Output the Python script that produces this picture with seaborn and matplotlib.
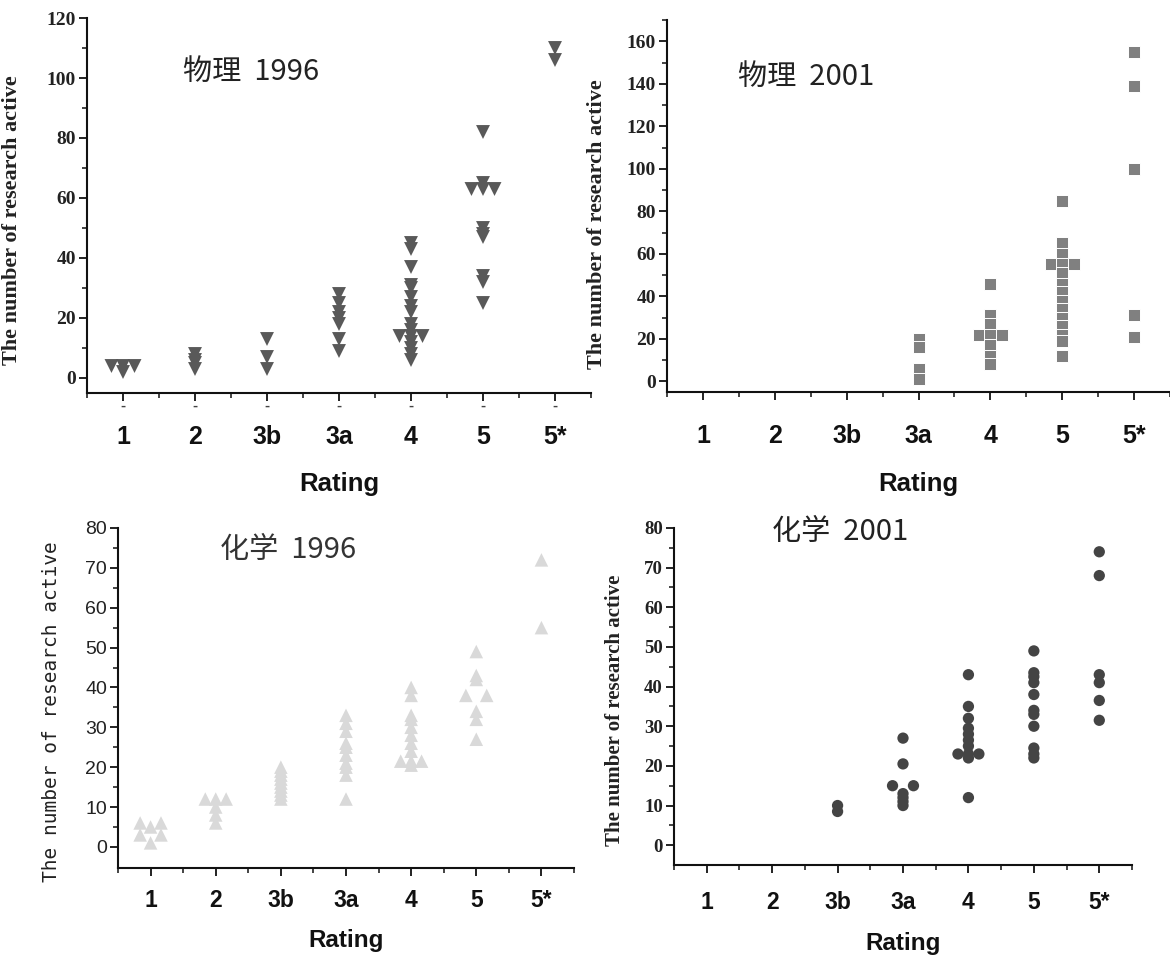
import numpy as np
import pandas as pd
import matplotlib
matplotlib.use("Agg")
import matplotlib.pyplot as plt
import matplotlib.transforms as mtransforms
import seaborn as sns

# рейтинги (ось X)
ratings = ['1', '2', '3b', '3a', '4', '5', '5*']

# 物理 1996 — значения по каждому рейтингу
phys_1996 = [
    [4, 4, 4, 2],
    [8, 6, 5, 3],
    [13, 7, 3],
    [28, 25, 22, 20, 18, 13, 9],
    [45, 43, 37, 31, 30, 27, 24, 22, 18, 16, 14, 14, 14, 12, 10, 8, 6],
    [82, 65, 63, 63, 63, 50, 48, 47, 34, 32, 25],
    [110, 106],
]

# 物理 2001
phys_2001 = [
    [],
    [],
    [],
    [20, 16, 6, 1],
    [46, 31, 27, 22, 22, 22, 17, 12, 8],
    [85, 65, 60, 55, 55, 55, 51, 46, 42, 38, 34, 30, 26, 22, 19, 12],
    [155, 139, 100, 31, 21],
]

# 化学 1996
chem_1996 = [
    [6, 6, 5, 3, 3, 1],
    [12, 12, 12, 10, 8, 6],
    [20, 19, 18, 17, 16, 15, 14, 13, 12],
    [33, 31, 29, 26, 25, 23, 21, 20, 18, 12],
    [40, 38, 33, 32, 30, 28, 26, 24, 21.5, 21.5, 21.5, 20.5],
    [49, 43, 42, 38, 38, 34, 32, 27],
    [72, 55],
]

# 化学 2001
chem_2001 = [
    [],
    [],
    [10, 8.5],
    [27, 20.5, 15, 15, 13, 12, 11, 10],
    [43, 35, 32, 29.5, 28, 26.5, 25, 23, 23, 23, 22, 12],
    [49, 43.5, 42.5, 41, 38, 34, 33, 30, 24.5, 23, 22],
    [74, 68, 43, 41, 36.5, 31.5],
]

W, H = 1170, 958


def column_offsets(values, step=0.16):
    """Сдвигаем одинаковые значения в стороны, как column scatter в Origin."""
    offs = np.zeros(len(values))
    for v in set(values):
        idx = [i for i, x in enumerate(values) if x == v]
        n = len(idx)
        if n < 2:
            continue
        if n % 2:
            k = np.arange(n) - n // 2
        else:
            k = np.r_[np.arange(-(n // 2), 0), np.arange(1, n // 2 + 1)]
        offs[idx] = k * step
    return offs


def to_frame(columns):
    rows = []
    for i, vals in enumerate(columns):
        offs = column_offsets(vals)
        for v, o in zip(vals, offs):
            rows.append({'Rating': ratings[i], 'pos': i + 1 + o, 'value': v})
    return pd.DataFrame(rows)


def px_axes(left, right, top, bottom):
    return [left / W, 1 - bottom / H, (right - left) / W, (bottom - top) / H]


sns.set_theme(style="ticks")
plt.rcParams['font.family'] = ['Liberation Sans', 'Noto Sans CJK SC', 'DejaVu Sans']
plt.rcParams['axes.linewidth'] = 1.5

fig = plt.figure(figsize=(W / 100, H / 100), dpi=100)

panels = [
    dict(data=phys_1996, rect=(87, 591, 18, 393), marker='v', color='#595959', s=100,
         ec='none', lw=0, ylim=(-5, 120), major=20, minor=10, xlim=(0.5, 7.5),
         yfont=('Liberation Serif', 'bold', 14), ylab_font=('Liberation Serif', 'bold', 16),
         ylab_xy=(-0.128, 0.46), xlab_xy=(0.5, -0.21), xpad=17, xsize=18, rsize=18.5,
         title='物理  1996', title_xy=(183, 72), title_color='#222222', dashes=True),
    dict(data=phys_2001, rect=(667, 1170, 20, 392), marker='s', color='#808080', s=85,
         ec='white', lw=0.7, ylim=(-5, 170), major=20, minor=10, xlim=(0.5, 7.27),
         yfont=('Liberation Serif', 'bold', 14), ylab_font=('Liberation Serif', 'bold', 16),
         ylab_xy=(-0.12, 0.45), xlab_xy=(0.5, -0.215), xpad=17, xsize=18, rsize=18.5,
         title='物理  2001', title_xy=(738, 77), title_color='#222222', dashes=False),
    dict(data=chem_1996, rect=(118, 574, 528, 868), marker='^', color='#d9d9d9', s=95,
         ec='none', lw=0, ylim=(-5.3, 80), major=10, minor=5, xlim=(0.5, 7.5),
         yfont=('Liberation Sans', 'normal', 14), ylab_font=('DejaVu Sans Mono', 'normal', 14),
         ylab_xy=(-0.125, 0.46), xlab_xy=(0.5, -0.18), xpad=9, xsize=16.5, rsize=17.5,
         title='化学  1996', title_xy=(220, 550), title_color='#333333', dashes=False),
    dict(data=chem_2001, rect=(674, 1132, 528, 865), marker='o', color='#444444', s=66,
         ec='none', lw=0, ylim=(-5, 80), major=10, minor=5, xlim=(0.5, 7.5),
         yfont=('Liberation Serif', 'bold', 13.5), ylab_font=('Liberation Serif', 'bold', 15),
         ylab_xy=(-0.107, 0.46), xlab_xy=(0.5, -0.2), xpad=13, xsize=16.5, rsize=17.5,
         title='化学  2001', title_xy=(772, 532), title_color='#222222', dashes=False),
]

for p in panels:
    ax = fig.add_axes(px_axes(*p['rect']))
    df = to_frame(p['data'])
    sns.scatterplot(data=df, x='pos', y='value', marker=p['marker'], s=p['s'],
                    color=p['color'], edgecolor=p['ec'], linewidth=p['lw'],
                    legend=False, ax=ax, zorder=3, clip_on=False)

    ax.set_xlim(*p['xlim'])
    ax.set_ylim(*p['ylim'])
    ax.set_xticks(range(1, len(ratings) + 1))
    ax.set_xticklabels(ratings)
    ax.set_xticks(np.arange(0.5, len(ratings) + 1, 1), minor=True)
    ax.set_yticks(np.arange(0, p['ylim'][1] + 0.1, p['major']))
    ax.set_yticks(np.arange(0, p['ylim'][1] + 0.1, p['minor']), minor=True)

    sns.despine(ax=ax)
    for side in ('left', 'bottom'):
        ax.spines[side].set_color('#111111')
    ax.tick_params(which='major', direction='out', length=6, width=1.3, color='#111111')
    ax.tick_params(which='minor', direction='out', length=3.5, width=1.1, color='#111111')
    ax.tick_params(axis='x', which='major', pad=p['xpad'])
    ax.tick_params(axis='y', which='major', pad=2)

    fam, wt, sz = p['yfont']
    for lbl in ax.get_yticklabels():
        lbl.set_fontfamily(fam)
        lbl.set_fontweight(wt)
        lbl.set_fontsize(sz)
        lbl.set_color('#222222')
    for lbl in ax.get_xticklabels():
        lbl.set_fontfamily('Liberation Sans')
        lbl.set_fontweight('bold')
        lbl.set_fontsize(p['xsize'])
        lbl.set_color('#111111')

    fam, wt, sz = p['ylab_font']
    ax.set_ylabel('The number of research active', fontfamily=fam,
                  fontweight=wt, fontsize=sz, color='#222222')
    ax.yaxis.set_label_coords(*p['ylab_xy'])
    ax.set_xlabel('Rating', fontfamily='Liberation Sans', fontweight='bold',
                  fontsize=p['rsize'], color='#111111')
    ax.xaxis.set_label_coords(*p['xlab_xy'])

    # остатки подписей под осью (как на исходной картинке)
    if p['dashes']:
        trans = mtransforms.blended_transform_factory(ax.transData, ax.transAxes)
        for i in range(len(ratings)):
            ax.text(i + 1, -0.035, '-', transform=trans, ha='center', va='center',
                    fontsize=11, color='#444444', fontweight='bold')

    tx, ty = p['title_xy']
    fig.text(tx / W, 1 - ty / H, p['title'], ha='left', va='center',
             fontsize=21, color=p['title_color'],
             family=['Noto Sans CJK SC', 'DejaVu Sans'])

fig.savefig('out.png', dpi=100)
